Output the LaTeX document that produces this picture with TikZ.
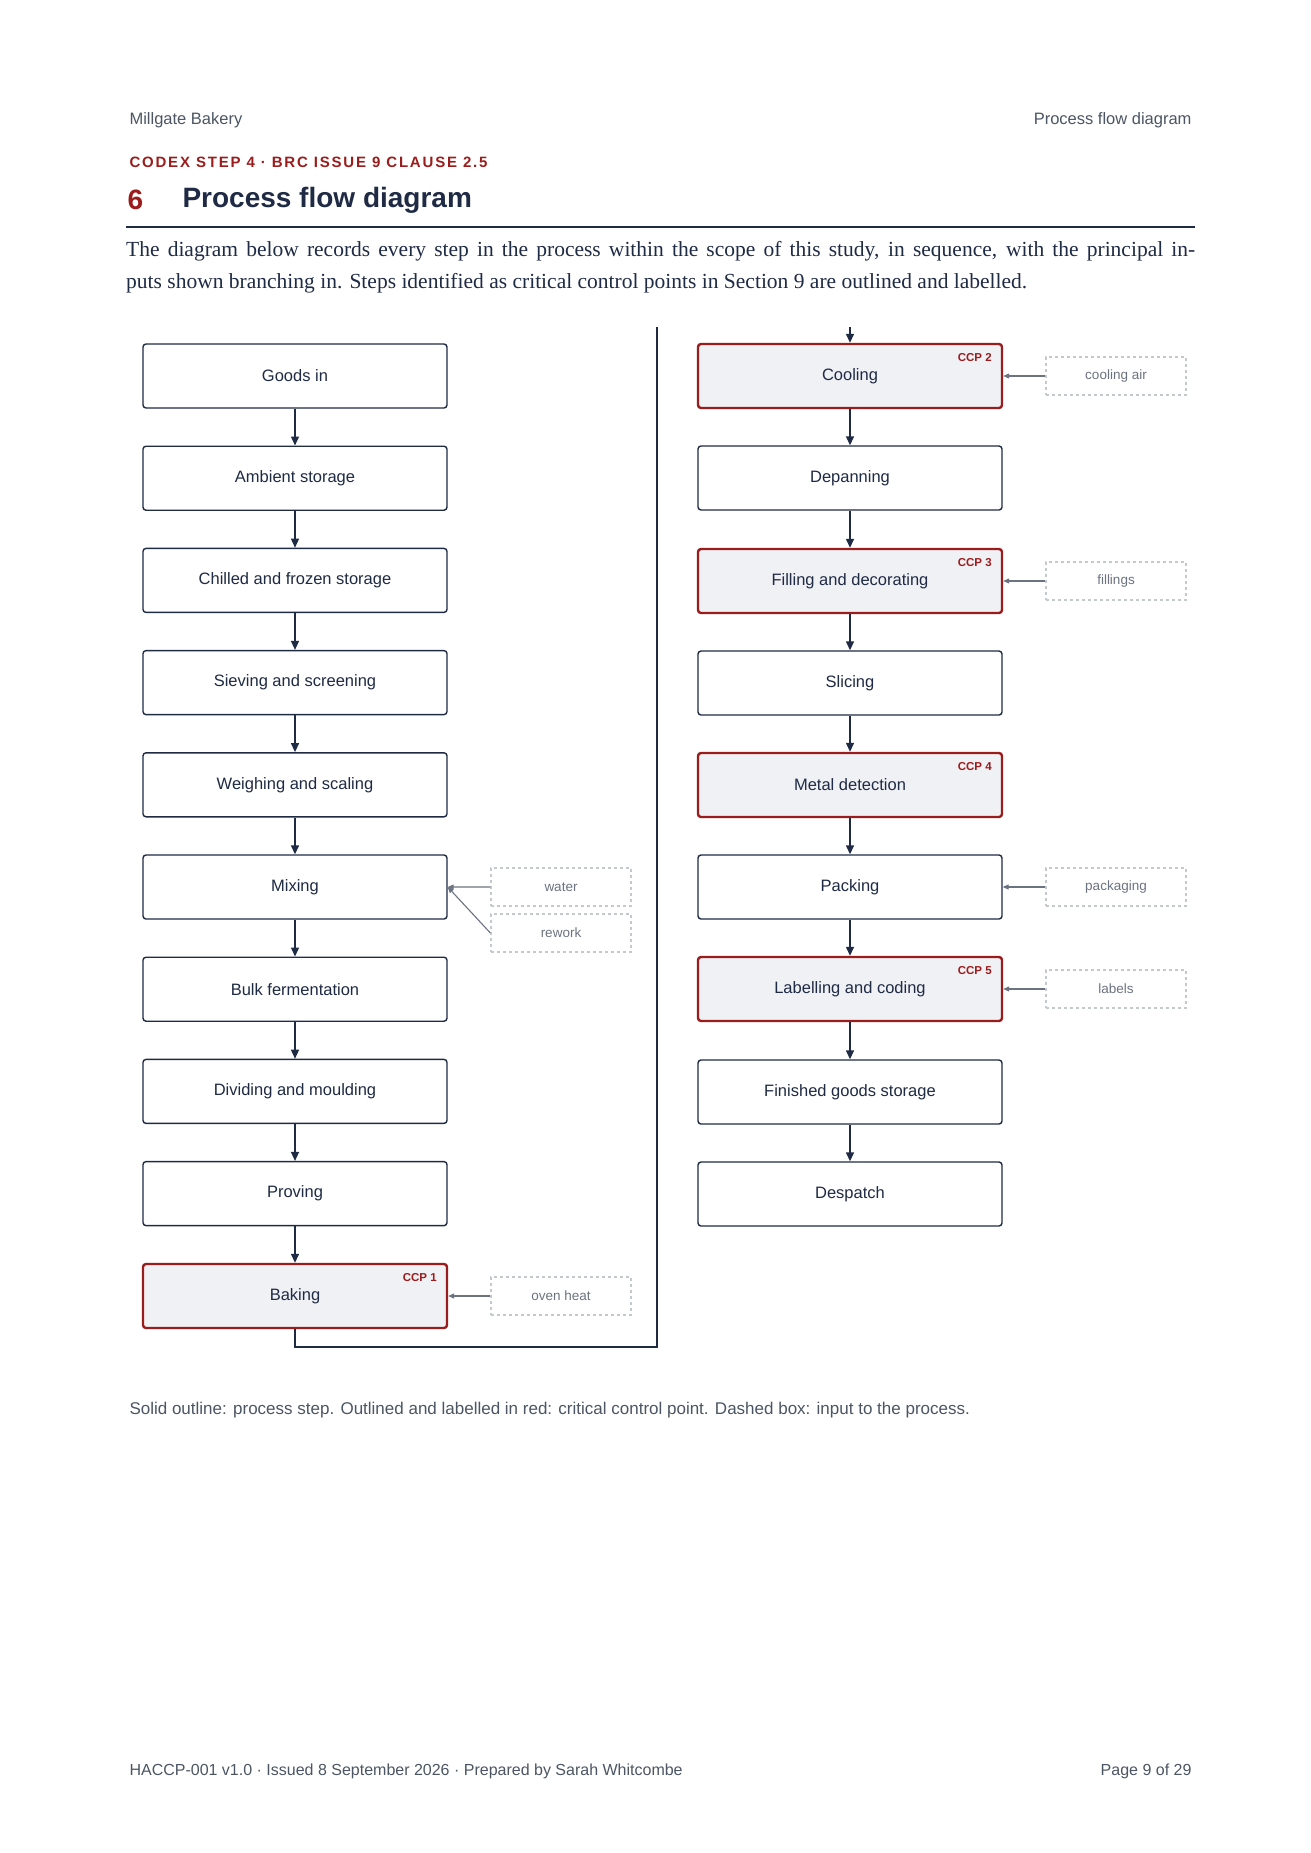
\documentclass[tikz,border=0pt]{standalone}
\usepackage{fontspec}
\setmainfont{Liberation Sans}
\newfontfamily\serifx{Liberation Serif}
\usetikzlibrary{arrows.meta}
\definecolor{navy}{HTML}{1F2A44}
\definecolor{ccpred}{HTML}{9B1C1C}
\definecolor{ccpfill}{HTML}{F0F1F5}
\definecolor{dashg}{HTML}{C4C8CF}
\definecolor{intext}{HTML}{6B7280}
\definecolor{hdr}{HTML}{4B5563}
\begin{document}
\begin{tikzpicture}[x=1pt,y=-1pt,
  pstep/.style={draw=navy,line width=1.4pt,rounded corners=3pt,minimum width=304pt,minimum height=64pt,inner sep=0pt,font=\fontsize{16.5}{18}\selectfont,text=navy,fill=white},
  ccp/.style={pstep,draw=ccpred,line width=2.4pt,fill=ccpfill},
  inp/.style={draw=dashg,dashed,line width=1.2pt,minimum width=140pt,minimum height=38pt,inner sep=0pt,font=\fontsize{13.5}{15}\selectfont,text=intext},
  flow/.style={draw=navy,line width=1.4pt,-{Triangle[length=9pt,width=8pt]}},
  feed/.style={draw=intext,line width=1.1pt,-{Triangle[length=6pt,width=5pt]}},
  tag/.style={font=\bfseries\fontsize{11.5}{12}\selectfont,text=ccpred,anchor=north east}]
\useasboundingbox (0,0) rectangle (1310,1853);
% header
\node[anchor=west,text=hdr,font=\fontsize{16.5}{18}\selectfont] (h1) at (126,120) {Millgate Bakery};
\node[anchor=east,text=hdr,font=\fontsize{16.5}{18}\selectfont] (h2) at (1195,120) {Process flow diagram};
\node[anchor=west,text=ccpred,font=\bfseries\fontsize{15}{16}\selectfont\addfontfeature{LetterSpace=12}] (cx) at (126,162) {CODEX STEP 4 · BRC ISSUE 9 CLAUSE 2.5};
\node[anchor=west,text=ccpred,font=\bfseries\fontsize{28}{30}\selectfont] (num) at (124,200) {6};
\node[anchor=west,text=navy,font=\bfseries\fontsize{28}{30}\selectfont] (ttl) at (179,200) {Process flow diagram};
\draw[navy,line width=2.4pt] (126,227) -- (1195,227);
\node[anchor=north west,inner sep=0pt,text=navy,font=\serifx\fontsize{21.5}{32}\selectfont,align=left] (par) at (126,241)
 {\makebox[1069pt][s]{The diagram below records every step in the process within the scope of this study, in sequence, with the principal in-}\\
 puts shown branching in. Steps identified as critical control points in Section 9 are outlined and labelled.};
% left column
\foreach \n/\t/\i in {a/Goods in/0,b/Ambient storage/1,c/Chilled and frozen storage/2,d/Sieving and screening/3,e/Weighing and scaling/4,f/Mixing/5,g/Bulk fermentation/6,h/Dividing and moulding/7,i/Proving/8}
  \node[pstep] (\n) at (295,376+102.2*\i) {\t};
\node[ccp] (j) at (295,1296) {Baking};
\node[tag] (tj) at ([xshift=-8pt,yshift=-7pt]j.north east) {CCP 1};
% right column
\node[ccp] (k) at (850,376) {Cooling};
\node[pstep] (l) at (850,478) {Depanning};
\node[ccp] (m) at (850,581) {Filling and decorating};
\node[pstep] (n) at (850,683) {Slicing};
\node[ccp] (o) at (850,785) {Metal detection};
\node[pstep] (p) at (850,887) {Packing};
\node[ccp] (q) at (850,989) {Labelling and coding};
\node[pstep] (r) at (850,1092) {Finished goods storage};
\node[pstep] (s) at (850,1194) {Despatch};
\foreach \a/\b in {k/CCP 2,m/CCP 3,o/CCP 4,q/CCP 5}
  \node[tag] (t\a) at ([xshift=-8pt,yshift=-7pt]\a.north east) {\b};
\foreach \u/\v in {a/b,b/c,c/d,d/e,e/f,f/g,g/h,h/i,i/j,k/l,l/m,m/n,n/o,o/p,p/q,q/r,r/s}
  \draw[flow] (\u) -- (\v);
% connector between columns
\coordinate (c1) at (657,1347);
\coordinate (c2) at (657,327);
\coordinate (c3) at (850,327);
\draw[navy,line width=1.4pt] (j.south) |- (c1) -- (c2);
\draw[flow] (c3) -- (k.north);
% inputs
\node[inp] (w) at (561,887) {water};
\node[inp] (rw) at (561,933) {rework};
\node[inp] (ov) at (561,1296) {oven heat};
\node[inp] (ca) at (1116,376) {cooling air};
\node[inp] (fi) at (1116,581) {fillings};
\node[inp] (pk) at (1116,887) {packaging};
\node[inp] (lb) at (1116,989) {labels};
\draw[feed] (w.west) -- (f.east);
\draw[feed] (rw.west) -- (f.east);
\draw[feed] (ov.west) -- (j.east);
\draw[feed] (ca.west) -- (k.east);
\draw[feed] (fi.west) -- (m.east);
\draw[feed] (pk.west) -- (p.east);
\draw[feed] (lb.west) -- (q.east);
% caption and footer
\node[anchor=west,text=hdr,font=\fontsize{17}{19}\selectfont] (cap) at (126,1410) {Solid outline: process step. Outlined and labelled in red: critical control point. Dashed box: input to the process.};
\node[anchor=west,text=hdr,font=\fontsize{16}{18}\selectfont] (f1) at (126,1771) {HACCP-001 v1.0 · Issued 8 September 2026 · Prepared by Sarah Whitcombe};
\node[anchor=east,text=hdr,font=\fontsize{16}{18}\selectfont] (f2) at (1195,1771) {Page 9 of 29};
\end{tikzpicture}
\end{document}
